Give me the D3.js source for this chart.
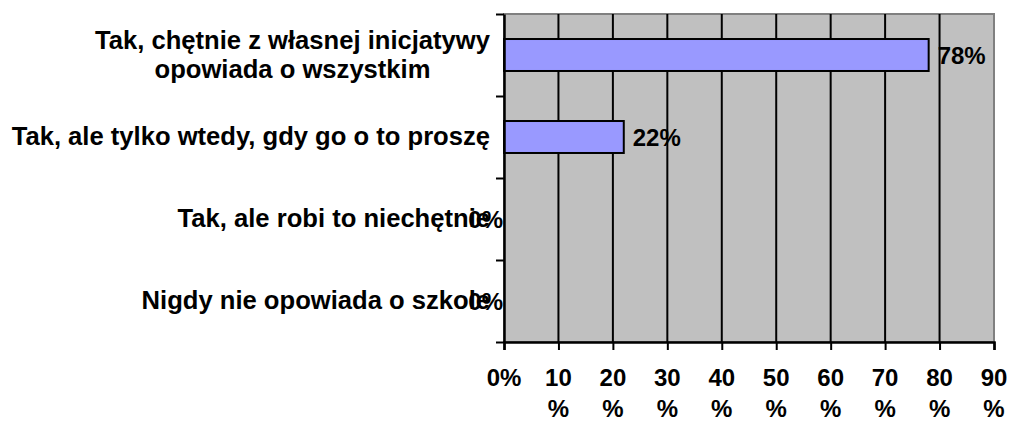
<!DOCTYPE html>
<html>
<head>
<meta charset="utf-8">
<script src="https://cdn.jsdelivr.net/npm/d3@7"></script>
<style>
  body { margin: 0; background: #fff; }
  text { font-family: "Liberation Sans", Arial, sans-serif; font-weight: bold; fill: #000; }
</style>
</head>
<body>
<div id="chart"></div>
<script>
// data
var categories = [
  "Tak, chętnie z własnej inicjatywy\nopowiada o wszystkim",
  "Tak, ale tylko wtedy, gdy go o to proszę",
  "Tak, ale robi to niechętnie",
  "Nigdy nie opowiada o szkole"
];
var values = [78, 22, 0, 0];
var valueLabels = ["78%", "22%", "0%", "0%"];
var tickValues = [0, 10, 20, 30, 40, 50, 60, 70, 80, 90];
var tickLabels = ["0%", "10\n%", "20\n%", "30\n%", "40\n%", "50\n%", "60\n%", "70\n%", "80\n%", "90\n%"];

var svgWidth = 1010;
var svgHeight = 421;

var margin = { top: 14, right: 16, bottom: 79, left: 504 };
var plotWidth = svgWidth - margin.left - margin.right;
var plotHeight = svgHeight - margin.top - margin.bottom;

var svg = d3.select("#chart")
  .append("svg")
  .attr("width", svgWidth)
  .attr("height", svgHeight);

var g = svg.append("g")
  .attr("transform", `translate(${margin.left}, ${margin.top})`);

// scales
var xScale = d3.scaleLinear()
  .domain([0, 90])
  .range([0, plotWidth]);

var yBand = d3.scaleBand()
  .domain(d3.range(categories.length))
  .range([0, plotHeight])
  .paddingInner(0.61)
  .paddingOuter(0.305);

var yEdge = d3.scaleLinear()
  .domain([0, categories.length])
  .range([0, plotHeight]);

// plot background + border
g.append("rect")
  .attr("width", plotWidth)
  .attr("height", plotHeight)
  .attr("fill", "#c0c0c0")
  .attr("stroke", "#808080")
  .attr("stroke-width", 2);

// vertical gridlines
g.selectAll(".grid")
  .data(tickValues.slice(1, -1))
  .enter()
  .append("line")
  .attr("x1", d => xScale(d))
  .attr("x2", d => xScale(d))
  .attr("y1", 0)
  .attr("y2", plotHeight)
  .attr("stroke", "#000")
  .attr("stroke-width", 2);

// bars
g.selectAll(".bar")
  .data(values)
  .enter()
  .append("rect")
  .attr("x", xScale(0))
  .attr("y", (d, i) => yBand(i))
  .attr("width", d => xScale(d) - xScale(0))
  .attr("height", yBand.bandwidth())
  .attr("fill", "#9999ff")
  .attr("stroke", d => d > 0 ? "#000" : "none")
  .attr("stroke-width", 2);

// x axis
var bottomAxis = d3.axisBottom(xScale)
  .tickValues(tickValues)
  .tickSize(8)
  .tickFormat("");

var xAxisG = g.append("g")
  .attr("transform", `translate(0, ${plotHeight})`)
  .call(bottomAxis);
xAxisG.select(".domain").attr("stroke-width", 2.5);
xAxisG.selectAll(".tick line").attr("stroke-width", 2);

g.selectAll(".xlabel")
  .data(tickValues)
  .enter()
  .append("text")
  .attr("x", d => xScale(d))
  .attr("y", plotHeight + 44)
  .attr("text-anchor", "middle")
  .attr("font-size", 24)
  .each(function(d, i) {
    var lines = tickLabels[i].split("\n");
    d3.select(this).selectAll("tspan")
      .data(lines)
      .enter()
      .append("tspan")
      .attr("x", xScale(d))
      .attr("dy", (l, j) => j === 0 ? 0 : 31)
      .text(l => l);
  });

// y axis (ticks at category boundaries)
var leftAxis = d3.axisLeft(yEdge)
  .tickValues(d3.range(categories.length + 1))
  .tickSize(8)
  .tickSizeOuter(0)
  .tickFormat("");

var yAxisG = g.append("g").call(leftAxis);
yAxisG.select(".domain").attr("stroke-width", 2.5);
yAxisG.selectAll(".tick line").attr("stroke-width", 2);

// category labels
var labelRight = -14;
var lineHeight = 29;
g.selectAll(".ylabel")
  .data(categories)
  .enter()
  .append("text")
  .attr("font-size", 25.6)
  .attr("text-anchor", "middle")
  .each(function(d, i) {
    var lines = d.split("\n");
    var t = d3.select(this);
    var cy = yBand(i) + yBand.bandwidth() / 2;
    var spans = t.selectAll("tspan")
      .data(lines)
      .enter()
      .append("tspan")
      .attr("y", (l, j) => cy + 8 + (j - (lines.length - 1) / 2) * lineHeight)
      .text(l => l);
    var maxW = 0;
    spans.each(function() { maxW = Math.max(maxW, this.getComputedTextLength()); });
    spans.attr("x", labelRight - maxW / 2);
  });

// value labels
g.selectAll(".vlabel")
  .data(values)
  .enter()
  .append("text")
  .attr("font-size", 24)
  .attr("x", d => d > 0 ? xScale(d) + 9 : xScale(d) - 1)
  .attr("y", (d, i) => yBand(i) + yBand.bandwidth() / 2 + 9)
  .attr("text-anchor", d => d > 0 ? "start" : "end")
  .text((d, i) => valueLabels[i]);
</script>
</body>
</html>
